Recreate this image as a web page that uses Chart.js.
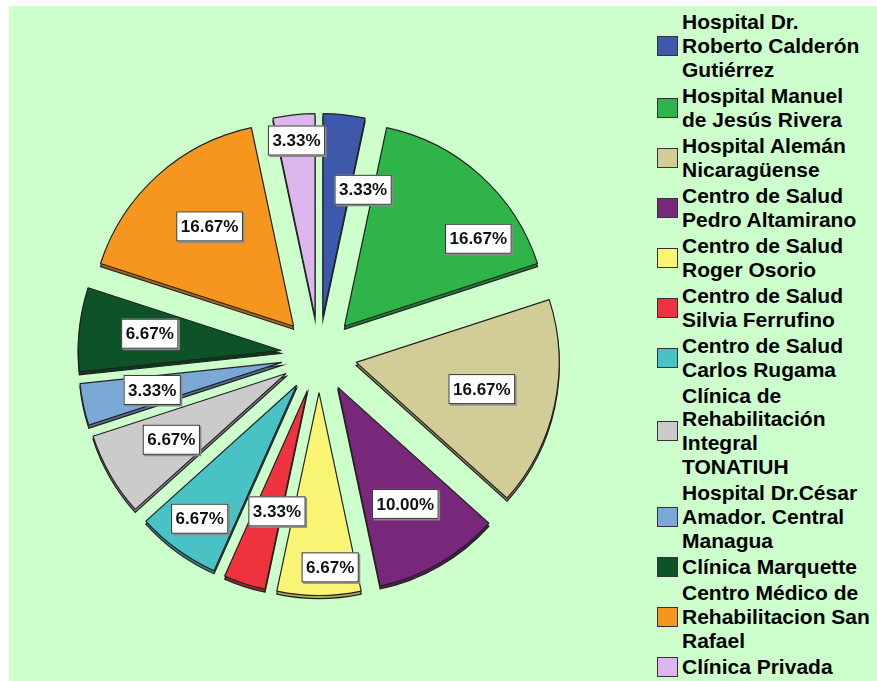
<!DOCTYPE html>
<html>
<head>
<meta charset="utf-8">
<script src="https://cdn.jsdelivr.net/npm/chart.js@4/dist/chart.umd.min.js"></script>
<style>
  html, body { margin: 0; padding: 0; background: #fff; }
  body { width: 877px; height: 681px; position: relative; overflow: hidden; }
  #panel { position: absolute; left: 9px; top: 6px; right: 0; bottom: 0; background: #ccffcc; }
  #chart { position: absolute; left: 0; top: 0; }
  #legend { position: absolute; left: 657px; top: 10px; font: bold 21px "Liberation Sans", Arial, sans-serif; color: #000; }
  .item { display: flex; align-items: center; margin-bottom: 2.4px; }
  .box { width: 19px; height: 18px; border: 1px solid #333; margin-right: 4px; flex: none; }
  .txt { line-height: 23.8px; white-space: nowrap; }
</style>
</head>
<body>
<div id="panel"></div>
<canvas id="chart" width="640" height="681"></canvas>
<div id="legend"></div>
<script>
// clinics, clockwise from 12 o'clock
const categories = [
  'Hospital Dr.\nRoberto Calderón\nGutiérrez',
  'Hospital Manuel\nde Jesús Rivera',
  'Hospital Alemán\nNicaragüense',
  'Centro de Salud\nPedro Altamirano',
  'Centro de Salud\nRoger Osorio',
  'Centro de Salud\nSilvia Ferrufino',
  'Centro de Salud\nCarlos Rugama',
  'Clínica de\nRehabilitación\nIntegral\nTONATIUH',
  'Hospital Dr.César\nAmador. Central\nManagua',
  'Clínica Marquette',
  'Centro Médico de\nRehabilitacion San\nRafael',
  'Clínica Privada'
];
const counts = [1, 5, 5, 3, 2, 1, 2, 2, 1, 2, 5, 1];
const colors = ['#3e58ac', '#2fb44a', '#d2cc96', '#78277b', '#faf475', '#ee333e',
                '#48c2c5', '#cbcbcb', '#7ba9d6', '#0e5328', '#f7961f', '#ddb6ee'];

// label placement tweaks: [distance as share of radius, angle nudge in degrees]
const labelPlace = [[0.84, 9], [0.97, 12], [0.82, 0], [0.85, 0], [1.05, -3], [0.8, -3],
                    [1.0, 0], [0.84, 0], [0.84, 0], [0.84, 1], [0.83, 1.5], [1.06, 0]];

const total = counts.reduce((a, b) => a + b, 0);
const percents = counts.map(c => (c / total * 100).toFixed(2) + '%');

const RADIUS = 203;
const EXPLODE = 38;
const DEPTH = 3;

function darker(hex, f) {
  const n = parseInt(hex.slice(1), 16);
  const r = Math.round(((n >> 16) & 255) * f), g = Math.round(((n >> 8) & 255) * f), b = Math.round((n & 255) * f);
  return `rgb(${r},${g},${b})`;
}

const explodePlugin = {
  id: 'explode',
  afterDatasetUpdate(chart, args) {
    const meta = chart.getDatasetMeta(args.index);
    meta.data.forEach(arc => {
      const mid = (arc.startAngle + arc.endAngle) / 2;
      arc.x += Math.cos(mid) * EXPLODE;
      arc.y += Math.sin(mid) * EXPLODE;
    });
  },
  beforeDatasetsDraw(chart) {
    const ctx = chart.ctx;
    const meta = chart.getDatasetMeta(0);
    ctx.save();
    meta.data.forEach((arc, i) => {
      ctx.beginPath();
      ctx.moveTo(arc.x, arc.y + DEPTH);
      ctx.arc(arc.x, arc.y + DEPTH, arc.outerRadius, arc.startAngle, arc.endAngle);
      ctx.closePath();
      ctx.fillStyle = darker(colors[i], 0.7);
      ctx.fill();
      ctx.lineWidth = 1.2;
      ctx.strokeStyle = '#222';
      ctx.stroke();
    });
    ctx.restore();
  },
  afterDatasetsDraw(chart) {
    const ctx = chart.ctx;
    const meta = chart.getDatasetMeta(0);
    const a = chart.chartArea;
    const cx = (a.left + a.right) / 2, cy = (a.top + a.bottom) / 2;
    ctx.save();
    ctx.font = 'bold 17px "Liberation Sans", Arial, sans-serif';
    ctx.textAlign = 'center';
    ctx.textBaseline = 'middle';
    meta.data.forEach((arc, i) => {
      const [f, nudge] = labelPlace[i];
      const ang = (arc.startAngle + arc.endAngle) / 2 + nudge * Math.PI / 180;
      const x = cx + Math.cos(ang) * f * arc.outerRadius;
      const y = cy + Math.sin(ang) * f * arc.outerRadius;
      const w = ctx.measureText(percents[i]).width + 9, h = 30;
      ctx.fillStyle = '#8a8a8a';
      ctx.fillRect(x - w / 2 + 1.5, y - h / 2 + 1.5, w, h);
      ctx.fillStyle = '#fff';
      ctx.fillRect(x - w / 2, y - h / 2, w, h);
      ctx.lineWidth = 1;
      ctx.strokeStyle = '#333';
      ctx.strokeRect(x - w / 2 + 0.5, y - h / 2 + 0.5, w - 1, h - 1);
      ctx.fillStyle = '#111';
      ctx.fillText(percents[i], x, y + 1);
    });
    ctx.restore();
  }
};

new Chart(document.getElementById('chart'), {
  type: 'pie',
  plugins: [explodePlugin],
  data: {
    labels: categories,
    datasets: [{
      data: counts,
      backgroundColor: colors,
      borderColor: '#222',
      borderWidth: 1.2
    }]
  },
  options: {
    responsive: false,
    animation: false,
    events: [],
    radius: RADIUS,
    layout: { padding: { top: 28, right: 2 } },
    plugins: { legend: { display: false }, tooltip: { enabled: false } }
  }
});

// legend on the right, wrapped like the original
const legend = document.getElementById('legend');
categories.forEach((name, i) => {
  const item = document.createElement('div');
  item.className = 'item';
  const box = document.createElement('div');
  box.className = 'box';
  box.style.background = colors[i];
  const txt = document.createElement('div');
  txt.className = 'txt';
  txt.innerHTML = name.split('\n').join('<br>');
  item.appendChild(box);
  item.appendChild(txt);
  legend.appendChild(item);
});
</script>
</body>
</html>
